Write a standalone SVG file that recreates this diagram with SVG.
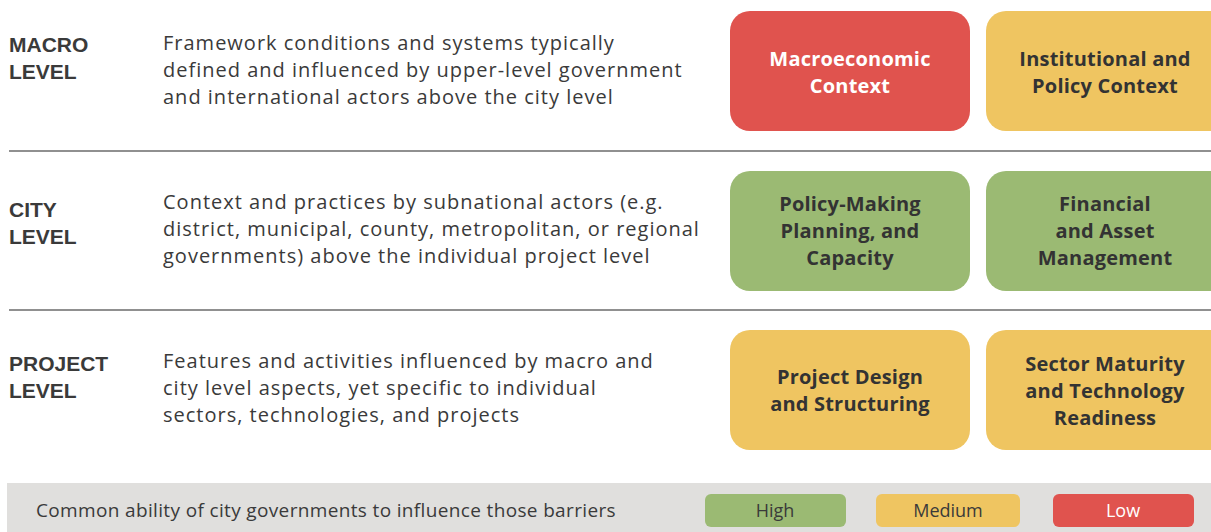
<svg xmlns="http://www.w3.org/2000/svg" width="1211" height="532" viewBox="0 0 1211 532">
  <style>
    .lvl { font-family: "Liberation Sans", Arial, sans-serif; font-weight: bold; font-size: 21px; fill: #3a3a3a; }
    .desc { font-family: "Open Sans", "Liberation Sans", sans-serif; font-size: 20px; letter-spacing: 1px; fill: #3a3a3a; }
    .box-t { font-family: "Open Sans", "Liberation Sans", sans-serif; font-weight: bold; font-size: 20px; letter-spacing: 0.2px; fill: #333333; text-anchor: middle; }
    .box-w { fill: #ffffff; }
    .red { fill: #e0534e; }
    .yellow { fill: #efc561; }
    .green { fill: #9bba73; }
    .rule { stroke: #6b6b6b; stroke-width: 1.5; }
    .legend-t { font-family: "Open Sans", "Liberation Sans", sans-serif; font-size: 18px; fill: #3a3a3a; text-anchor: middle; }
    .note { font-family: "Open Sans", "Liberation Sans", sans-serif; font-size: 19px; letter-spacing: 0.35px; fill: #3a3a3a; }
  </style>
  <rect width="1211" height="532" fill="#ffffff"/>

  <!-- row separators -->
  <g id="separators">
    <line class="rule" x1="9" y1="151" x2="1211" y2="151"/>
    <line class="rule" x1="9" y1="310" x2="1211" y2="310"/>
  </g>

  <!-- macro level row -->
  <g id="macro-level">
    <text class="lvl" x="9" y="52">MACRO</text>
    <text class="lvl" x="9" y="79">LEVEL</text>
    <text class="desc" x="163" y="50">Framework conditions and systems typically</text>
    <text class="desc" x="163" y="77">defined and influenced by upper-level government</text>
    <text class="desc" x="163" y="104">and international actors above the city level</text>
  </g>
  <g id="macroeconomic-context">
    <rect class="red" x="730" y="11" width="240" height="120" rx="20"/>
    <text class="box-t box-w" x="850" y="66">Macroeconomic</text>
    <text class="box-t box-w" x="850" y="93">Context</text>
  </g>
  <g id="institutional-policy-context">
    <rect class="yellow" x="986" y="11" width="245" height="120" rx="20"/>
    <text class="box-t" x="1105" y="66">Institutional and</text>
    <text class="box-t" x="1105" y="93">Policy Context</text>
  </g>

  <!-- city level row -->
  <g id="city-level">
    <text class="lvl" x="9" y="217">CITY</text>
    <text class="lvl" x="9" y="244">LEVEL</text>
    <text class="desc" x="163" y="209">Context and practices by subnational actors (e.g.</text>
    <text class="desc" x="163" y="236">district, municipal, county, metropolitan, or regional</text>
    <text class="desc" x="163" y="263">governments) above the individual project level</text>
  </g>
  <g id="policy-making">
    <rect class="green" x="730" y="171" width="240" height="120" rx="20"/>
    <text class="box-t" x="850" y="211">Policy-Making</text>
    <text class="box-t" x="850" y="238">Planning, and</text>
    <text class="box-t" x="850" y="265">Capacity</text>
  </g>
  <g id="financial-asset-management">
    <rect class="green" x="986" y="171" width="245" height="120" rx="20"/>
    <text class="box-t" x="1105" y="211">Financial</text>
    <text class="box-t" x="1105" y="238">and Asset</text>
    <text class="box-t" x="1105" y="265">Management</text>
  </g>

  <!-- project level row -->
  <g id="project-level">
    <text class="lvl" x="9" y="371">PROJECT</text>
    <text class="lvl" x="9" y="398">LEVEL</text>
    <text class="desc" x="163" y="368">Features and activities influenced by macro and</text>
    <text class="desc" x="163" y="395">city level aspects, yet specific to individual</text>
    <text class="desc" x="163" y="422">sectors, technologies, and projects</text>
  </g>
  <g id="project-design">
    <rect class="yellow" x="730" y="330" width="240" height="120" rx="20"/>
    <text class="box-t" x="850" y="384">Project Design</text>
    <text class="box-t" x="850" y="411">and Structuring</text>
  </g>
  <g id="sector-maturity">
    <rect class="yellow" x="986" y="330" width="245" height="120" rx="20"/>
    <text class="box-t" x="1105" y="371">Sector Maturity</text>
    <text class="box-t" x="1105" y="398">and Technology</text>
    <text class="box-t" x="1105" y="425">Readiness</text>
  </g>

  <!-- legend band -->
  <g id="legend">
    <rect x="7" y="483" width="1204" height="49" fill="#e0dfdd"/>
    <text class="note" x="36" y="517">Common ability of city governments to influence those barriers</text>
    <rect class="green" x="705" y="494" width="141" height="33" rx="6"/>
    <text class="legend-t" x="775" y="517">High</text>
    <rect class="yellow" x="876" y="494" width="144" height="33" rx="6"/>
    <text class="legend-t" x="948" y="517">Medium</text>
    <rect class="red" x="1053" y="494" width="141" height="33" rx="6"/>
    <text class="legend-t" x="1123" y="517" style="fill:#ffffff">Low</text>
  </g>
</svg>
